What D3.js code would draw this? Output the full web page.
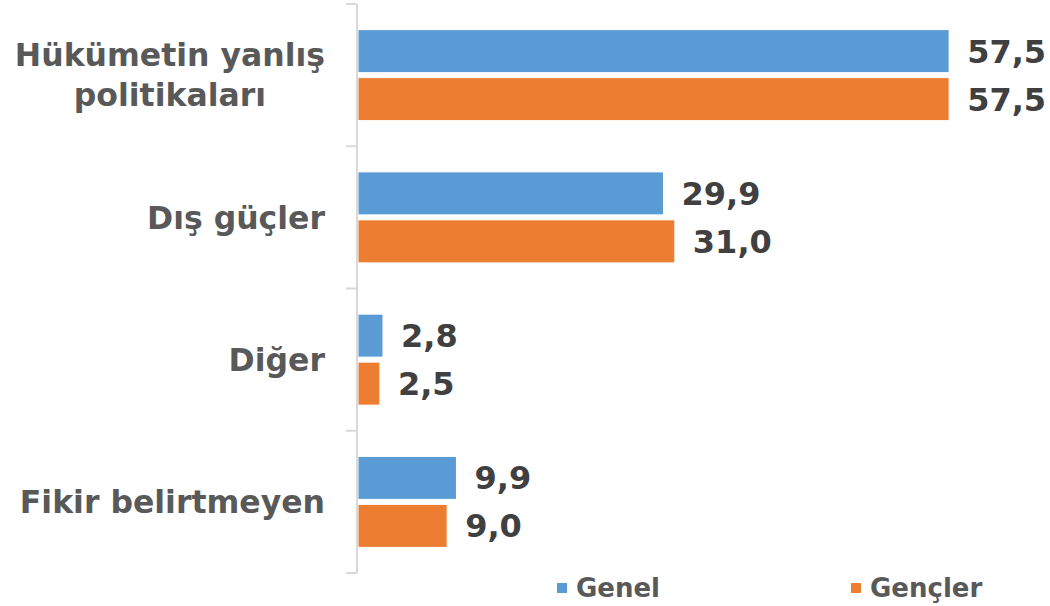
<!DOCTYPE html>
<html>
<head>
<meta charset="utf-8">
<script src="https://cdn.jsdelivr.net/npm/d3@7"></script>
<style>
  body { margin: 0; background: #fff; }
  text { font-family: Verdana, "DejaVu Sans", sans-serif; font-weight: bold; }
</style>
</head>
<body>
<div id="chart"></div>
<script>
// kategoriler ve seriler
var categories = [["Hükümetin yanlış", "politikaları"], ["Dış güçler"], ["Diğer"], ["Fikir belirtmeyen"]];
var seriesNames = ["Genel", "Gençler"];
var genel = [57.5, 29.9, 2.8, 9.9];
var gencler = [57.5, 31.0, 2.5, 9.0];
var colors = ["#5B9BD5", "#ED7D31"];

var W = 1050, H = 606;
var svg = d3.select("#chart").append("svg").attr("width", W).attr("height", H);

var axisX = 357, axTop = 4, axBottom = 573;

var y = d3.scaleBand().domain(d3.range(categories.length)).range([axTop, axBottom]).paddingInner(0).paddingOuter(0);
var x = d3.scaleLinear().domain([0, 60]).range([354, 975]);

var data = categories.map(function(c, i) { return { cat: c, vals: [genel[i], gencler[i]] }; });

// bars
var barH = 43, gap = 5, barStart = axisX + 1;
var grp = svg.selectAll("g.cat").data(data).enter().append("g").attr("class", "cat")
  .attr("transform", function(d, i) { return "translate(0," + (y(i) + y.bandwidth() / 2) + ")"; });

seriesNames.forEach(function(s, k) {
  var yOff = k === 0 ? -(barH + gap / 2) : gap / 2;
  grp.append("rect")
    .attr("x", barStart)
    .attr("y", yOff)
    .attr("width", function(d) { return x(d.vals[k]) - barStart; })
    .attr("height", barH)
    .attr("fill", colors[k])
    .attr("stroke", "#fff").attr("stroke-width", 1);
  grp.append("text")
    .attr("x", function(d) { return x(d.vals[k]) + 18; })
    .attr("y", yOff + barH / 2)
    .attr("dy", "0.36em")
    .attr("fill", "#404040")
    .style("font-size", "32px")
    .text(function(d) { return d3.format(".1f")(d.vals[k]).replace(".", ","); });
});

// category labels (cok satirli etiketler ortalanir, blok saga yaslanir)
var labelRight = 325;
grp.each(function(d) {
  var t = d3.select(this).append("text")
    .attr("text-anchor", "middle")
    .attr("fill", "#595959")
    .style("font-size", "31.5px");
  var n = d.cat.length, lh = 40;
  var spans = d.cat.map(function(line, j) {
    return t.append("tspan").attr("y", (j - (n - 1) / 2) * lh).attr("dy", "0.36em").text(line);
  });
  var maxW = d3.max(spans, function(s) { return s.node().getComputedTextLength(); });
  spans.forEach(function(s) { s.attr("x", labelRight - maxW / 2); });
});

// axis
var axis = svg.append("g").attr("stroke", "#D9D9D9").attr("stroke-width", 2);
axis.append("line").attr("x1", axisX).attr("x2", axisX).attr("y1", axTop).attr("y2", axBottom);
axis.selectAll("line.tick").data(d3.range(categories.length + 1)).enter().append("line")
  .attr("x1", axisX - 11).attr("x2", axisX)
  .attr("y1", function(i) { return axTop + i * y.bandwidth(); })
  .attr("y2", function(i) { return axTop + i * y.bandwidth(); });

// legend
var legendX = [557, 851];
var leg = svg.selectAll("g.leg").data(seriesNames).enter().append("g").attr("class", "leg")
  .attr("transform", function(d, i) { return "translate(" + legendX[i] + ",588)"; });
leg.append("rect").attr("x", 0).attr("y", -5).attr("width", 10).attr("height", 10)
  .attr("fill", function(d, i) { return colors[i]; });
leg.append("text").attr("x", 19).attr("dy", "0.36em").attr("fill", "#595959")
  .style("font-size", "26px").text(function(d) { return d; });
</script>
</body>
</html>
